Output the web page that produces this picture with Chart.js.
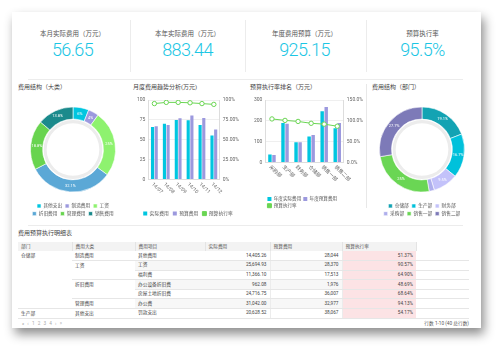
<!DOCTYPE html>
<html>
<head>
<meta charset="utf-8">
<script src="https://cdn.jsdelivr.net/npm/chart.js@4.4.1/dist/chart.umd.min.js"></script>
<style>
body { margin:0; width:503px; height:351px; overflow:hidden; background:#fff; font-family: Roboto, "Noto Sans CJK SC", sans-serif; }
#card { position:absolute; left:12px; top:12px; width:469px; height:316px; background:#fff; box-shadow:3px 6px 10px rgba(0,0,0,.45); }
.kpi { position:absolute; top:30px; width:117px; text-align:center; }
.kpi .lbl { font-size:6.5px; color:#555; line-height:9px; }
.kpi .val { font-size:18px; color:#1bc6e4; font-weight:300; line-height:18px; margin-top:2px; letter-spacing:-0.6px; }
.vline { position:absolute; top:20px; width:1px; height:52px; background:#ececec; }
.hline { position:absolute; height:1px; background:#ececec; }
.ptitle { position:absolute; top:82px; font-size:6px; color:#444; white-space:nowrap; }
.box { position:absolute; }
#tbl { position:absolute; left:18px; top:242px; border-collapse:collapse; table-layout:fixed; font-size:4.7px; line-height:6px; color:#444; }
#tbl tr { height:9.6px; }
#tbl thead tr { height:9px; }
#tbl th { background:#f3f3f3; font-weight:normal; text-align:left; padding:0 0 0 3px; border-right:1px solid #e4e4e4; color:#555; overflow:hidden; }
#tbl td { padding:0 3px; border-bottom:1px solid #e6e6e6; white-space:nowrap; vertical-align:middle; overflow:hidden; }
#tbl td.n { text-align:right; border-right:1px solid #ececec; }
#tbl td.g { vertical-align:top; padding-top:2px; }
#tbl tr.alt td.s { background:#f7f7f7; }
#tbl td.r { background:#fce3e5; text-align:right; }
.pager { position:absolute; left:22px; top:321px; font-size:4.7px; line-height:6px; color:#aaa; letter-spacing:1px; }
.rows { position:absolute; right:34px; top:321px; font-size:4.7px; line-height:6px; color:#555; }
</style>
</head>
<body>
<div id="card"></div>

<div class="kpi" style="left:14px"><div class="lbl">本月实际费用（万元）</div><div class="val">56.65</div></div>
<div class="kpi" style="left:129px"><div class="lbl">本年实际费用（万元）</div><div class="val">883.44</div></div>
<div class="kpi" style="left:246px"><div class="lbl">年度费用预算（万元）</div><div class="val">925.15</div></div>
<div class="kpi" style="left:364px"><div class="lbl">预算执行率</div><div class="val">95.5%</div></div>
<div class="vline" style="left:130px"></div>
<div class="vline" style="left:245px"></div>
<div class="vline" style="left:366px"></div>
<div class="hline" style="left:28px; top:79px; width:435px"></div>
<div class="hline" style="left:28px; top:225px; width:435px"></div>
<div style="position:absolute; left:366px; top:84px; width:1px; height:124px; background:#e8e8e8"></div>

<div class="ptitle" style="left:18px">费用结构（大类）</div>
<div class="ptitle" style="left:133px">月度费用趋势分析(万元)</div>
<div class="ptitle" style="left:250px">预算执行率排名（万元）</div>
<div class="ptitle" style="left:372px">费用结构（部门）</div>

<div class="box" style="left:23px; top:94px; width:100px; height:132px"><canvas id="pieCat"></canvas></div>
<div class="box" style="left:134px; top:94px; width:108px; height:132px"><canvas id="barMonth"></canvas></div>
<div class="box" style="left:251px; top:94px; width:115px; height:124px"><canvas id="barDept"></canvas></div>
<div class="box" style="left:377px; top:94px; width:90px; height:132px"><canvas id="pieDept"></canvas></div>

<div class="ptitle" style="left:18px; top:228px">费用预算执行明细表</div>
<table id="tbl">
  <colgroup><col style="width:54px"><col style="width:63px"><col style="width:70px"><col style="width:65px"><col style="width:72px"><col style="width:74px"><col style="width:53px"></colgroup>
  <thead><tr><th>部门</th><th>费用大类</th><th>费用项目</th><th>实际费用</th><th>预算费用</th><th>预算执行率</th><th style="background:#fff;border:none"></th></tr></thead>
  <tbody id="tbody"></tbody>
</table>
<div class="pager">« ‹ 1 2 3 4 › »</div>
<div class="rows">行数 1-10 (40 总行数)</div>

<script>
// 费用结构（大类）
const catLabels = ['其他支出', '制造费用', '工资', '折旧费用', '管理费用', '销售费用'];
const catShare = [6, 4, 25.0, 32.1, 18.8, 13.8];
const catColors = ['#00c6e0', '#9c99de', '#8ef26f', '#5ba8d6', '#68d44f', '#1b8a8c'];

// 月度费用趋势
const months = ['14/07', '14/08', '14/09', '14/10', '14/11', '14/12'];
const monthActual = [66, 70, 75, 74.5, 68.5, 55.5];
const monthBudget = [67, 68.5, 77, 80.5, 77.5, 63];
const monthRate = [95.5, 97, 97, 96.5, 95.5, 94.5];
const monthRateTicks = ['0%', '25.00%', '50.00%', '75.00%', '100%'];

// 预算执行率排名
const depts = ['采购部', '生产部', '财务部', '仓储部', '销售一部', '销售二部'];
const deptActual = [38, 190, 97, 125, 246, 164];
const deptBudget = [36, 186, 97, 132, 266, 189];
const deptRate = [104.5, 101, 98.5, 94, 92, 87];
const deptRateTicks = ['0.0%', '50.0%', '100.0%', '150.0%'];

// 费用结构（部门）
const shareDepts = ['仓储部', '生产部', '财务部', '采购部', '销售一部', '销售二部'];
const deptShare = [19.1, 16.7, 9.5, 2.0, 25, 27.7];
const deptColors = ['#13a3b3', '#00c1db', '#c3c2fa', '#aeaeec', '#6ad654', '#7d7ab8'];

// 明细表
const tblRows = [
  ['仓储部', '制造费用', '其他费用', '14,405.26', '28,044', '51.37%'],
  ['', '工资', '工资', '25,694.93', '28,370', '90.57%'],
  ['', '', '福利费', '11,366.10', '17,513', '64.90%'],
  ['', '折旧费用', '办公设备折旧费', '962.08', '1,976', '48.69%'],
  ['', '', '房屋土地折旧费', '24,716.75', '36,007', '68.64%'],
  ['', '管理费用', '办公费', '31,042.00', '32,977', '94.13%'],
  ['生产部', '其他支出', '罚款支出', '20,628.52', '38,067', '54.17%']
];
const deptSpan = [6, 0, 0, 0, 0, 0, 1];
const catSpan = [1, 2, 0, 2, 0, 1, 1];

const FONT = 'Roboto, "Noto Sans CJK SC", sans-serif';
Chart.defaults.font.family = FONT;
Chart.defaults.font.size = 5;
Chart.defaults.color = '#666';
Chart.defaults.animation = false;
Chart.defaults.events = [];
Chart.defaults.plugins.tooltip.enabled = false;

function fmtPct(v) {
  return Number.isInteger(v) ? v + '%' : v.toFixed(1) + '%';
}

// 环形图上的百分比
const arcLabels = {
  id: 'arcLabels',
  afterDatasetsDraw(chart) {
    const ctx = chart.ctx;
    const vals = chart.data.datasets[0].data;
    ctx.save();
    ctx.fillStyle = '#fff';
    ctx.font = '4px ' + FONT;
    ctx.textAlign = 'center';
    ctx.textBaseline = 'middle';
    chart.getDatasetMeta(0).data.forEach((arc, i) => {
      if (vals[i] < 3) return;
      const p = arc.tooltipPosition();
      ctx.fillText(fmtPct(vals[i]), p.x, p.y);
    });
    ctx.restore();
  }
};

// x轴斜向标签（向右下）
const slantTicks = {
  id: 'slantTicks',
  afterDraw(chart) {
    const sx = chart.scales.x;
    const ctx = chart.ctx;
    ctx.save();
    ctx.fillStyle = '#666';
    ctx.font = '5px ' + FONT;
    ctx.textAlign = 'left';
    ctx.textBaseline = 'middle';
    chart.data.labels.forEach((lab, i) => {
      ctx.save();
      ctx.translate(sx.getPixelForTick(i) - 2, sx.top + 4);
      ctx.rotate(Math.PI / 4);
      ctx.fillText(lab, 0, 0);
      ctx.restore();
    });
    ctx.restore();
  }
};

function donut(id, labels, data, colors) {
  new Chart(document.getElementById(id), {
    type: 'doughnut',
    data: {
      labels: labels,
      datasets: [
        { data: data, backgroundColor: colors, borderColor: '#fff', borderWidth: 0.6, weight: 12 },
        { data: [1], backgroundColor: 'rgba(0,0,0,0)', borderWidth: 0, weight: 1 },
        { data: [1], backgroundColor: '#ececec', borderWidth: 0, weight: 3 }
      ]
    },
    options: {
      responsive: true,
      maintainAspectRatio: false,
      radius: 42.5,
      cutout: '62%',
      layout: { padding: { top: 4.4, bottom: 0 } },
      plugins: {
        legend: {
          position: 'bottom',
          labels: { boxWidth: 4, boxHeight: 4, padding: 3, font: { size: 4.7 }, color: '#555' }
        }
      }
    },
    plugins: [arcLabels]
  });
}

function combo(id, labels, actual, budget, rate, names, yMax, yStep, rMax, rStep, rTicks, legendOpts) {
  new Chart(document.getElementById(id), {
    type: 'bar',
    data: {
      labels: labels,
      datasets: [
        { label: names[0], data: actual, backgroundColor: '#00c6e0', order: 1, categoryPercentage: 0.62, barPercentage: 0.85 },
        { label: names[1], data: budget, backgroundColor: '#9c99de', order: 1, categoryPercentage: 0.62, barPercentage: 0.85 },
        { label: names[2], type: 'line', data: rate, yAxisID: 'y1', order: 0,
          borderColor: '#6ad553', backgroundColor: '#6ad553', borderWidth: 1,
          pointRadius: 2.2, pointBackgroundColor: '#fff', pointBorderColor: '#6ad553', pointBorderWidth: 1 }
      ]
    },
    options: {
      responsive: true,
      maintainAspectRatio: false,
      layout: { padding: { top: 2 } },
      scales: {
        x: {
          grid: { display: false },
          border: { color: '#ddd' },
          ticks: { color: 'rgba(0,0,0,0)', minRotation: 45, maxRotation: 45, autoSkip: false }
        },
        y: {
          min: 0, max: yMax,
          ticks: { stepSize: yStep, padding: 3 },
          grid: { color: '#efefef', drawTicks: false },
          border: { color: '#ddd' }
        },
        y1: {
          position: 'right', min: 0, max: rMax,
          ticks: { stepSize: rStep, padding: 3, callback: (v, i) => rTicks[i] },
          grid: { display: false, drawTicks: false },
          border: { color: '#ddd' }
        }
      },
      plugins: {
        legend: Object.assign({ position: 'bottom' }, legendOpts)
      }
    },
    plugins: [slantTicks]
  });
}

const byIndex = (a, b) => a.datasetIndex - b.datasetIndex;

donut('pieCat', catLabels, catShare, catColors);
combo('barMonth', months, monthActual, monthBudget, monthRate, ['实际费用', '预算费用', '预算执行率'],
  100, 25, 100, 25, monthRateTicks,
  { labels: { boxWidth: 4, boxHeight: 4, padding: 4, font: { size: 4.8 }, color: '#555', sort: byIndex } });
combo('barDept', depts, deptActual, deptBudget, deptRate, ['年度实际费用', '年度预算费用', '预算执行率'],
  300, 100, 150, 50, deptRateTicks,
  { fullSize: false, align: 'start',
    labels: { boxWidth: 4, boxHeight: 4, padding: 2, font: { size: 4.6 }, color: '#555', sort: byIndex } });
donut('pieDept', shareDepts, deptShare, deptColors);

// 表格
const tbody = document.getElementById('tbody');
tblRows.forEach((r, i) => {
  const tr = document.createElement('tr');
  if (i % 2 === 1) tr.className = 'alt';
  let html = '';
  if (deptSpan[i]) html += `<td class="g" rowspan="${deptSpan[i]}">${r[0]}</td>`;
  if (catSpan[i]) html += `<td class="g" rowspan="${catSpan[i]}">${r[1]}</td>`;
  html += `<td class="s">${r[2]}</td><td class="n s">${r[3]}</td><td class="n s">${r[4]}</td><td class="r">${r[5]}</td><td></td>`;
  tr.innerHTML = html;
  tbody.appendChild(tr);
});
</script>
</body>
</html>
